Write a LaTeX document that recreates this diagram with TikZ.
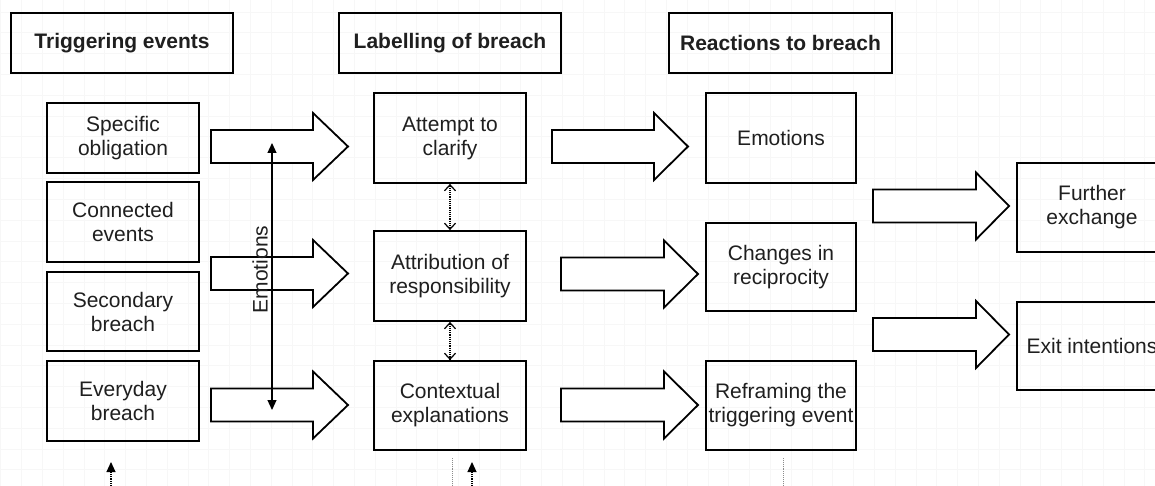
\documentclass[tikz,border=0pt]{standalone}
\usepackage{fontspec}
\setmainfont{Liberation Sans}
\usetikzlibrary{arrows.meta}
\newcommand\myBArrow[4]{%
  \draw[blockarrow] (#1,#4-16.5) -- (#2,#4-16.5) -- (#2,#4-33.5) -- (#3,#4)
    -- (#2,#4+33.5) -- (#2,#4+16.5) -- (#1,#4+16.5) -- cycle;}
\begin{document}
\begin{tikzpicture}[x=1pt,y=-1pt,
  box/.style={draw, line width=1.8pt, inner sep=0pt, align=center,
    font=\fontsize{21}{24}\selectfont, text=black!88},
  hdr/.style={box, font=\fontsize{21}{24}\selectfont\bfseries,
    minimum width=222pt, minimum height=60pt},
  item/.style={box, minimum width=152pt},
  blockarrow/.style={draw, line width=1.8pt, fill=white, line join=miter},
  dotarrow/.style={densely dotted, line width=1.2pt,
    {Straight Barb[length=6pt,width=11pt,line width=1.2pt]}-{Straight Barb[length=6pt,width=11pt,line width=1.2pt]}},
  emoarrow/.style={line width=1.2pt,
    {Triangle[length=10pt,width=9pt]}-{Triangle[length=10pt,width=9pt]}},
  stubarrow/.style={densely dotted, line width=1.1pt, -{Triangle[length=10pt,width=9pt]}},
  stubline/.style={densely dotted, line width=0.9pt, draw=black!45}
]
\useasboundingbox (0,0) rectangle (1155,486);
\clip (0,0) rectangle (1155,486);
\fill[white] (0,0) rectangle (1155,486);
% faint background grid
\foreach \i in {0,...,56} {
  \draw[black!3, line width=0.6pt] (0.6+\i*20.8,0) -- (0.6+\i*20.8,486);
}
\foreach \j in {-1,...,23} {
  \draw[black!3, line width=0.6pt] (0,12+\j*20.8) -- (1155,12+\j*20.8);
}
% headers
\node[hdr] (h1) at (122,43) {Triggering events};
\node[hdr] (h2) at (450,43) {Labelling of breach};
\node[hdr, minimum width=223pt] (h3) at (780.5,43) {Reactions to breach};
% triggering events
\node[item, minimum height=70pt] (a1) at (123,138) {Specific\\obligation};
\node[item, minimum height=80pt] (a2) at (123,222) {Connected\\events};
\node[item, minimum height=79pt] (a3) at (123,311.5) {Secondary\\breach};
\node[item, minimum height=80pt] (a4) at (123,401) {Everyday\\breach};
% labelling
\node[item, minimum height=90pt] (b1) at (450,138) {Attempt to\\clarify};
\node[item, minimum height=90pt] (b2) at (450,276) {Attribution of\\responsibility};
\node[item, minimum height=89pt] (b3) at (450,405.5) {Contextual\\explanations};
% reactions
\node[item, minimum width=150pt, minimum height=90pt] (c1) at (781,138) {Emotions};
\node[item, minimum width=150pt, minimum height=88pt] (c2) at (781,267) {Changes in\\reciprocity};
\node[item, minimum width=150pt, minimum height=89pt] (c3) at (781,405.5) {Reframing the\\triggering event};
% outcomes
\node[item, minimum width=150pt, minimum height=89pt] (d1) at (1092,207.5) {Further\\exchange};
\node[item, minimum width=150pt, minimum height=88pt] (d2) at (1092,346) {Exit intentions};
% block arrows
\myBArrow{211}{313}{348}{146.5}
\myBArrow{211}{313}{348}{273.5}
\myBArrow{211}{313}{348}{405}
\myBArrow{552}{654}{688}{146.5}
\myBArrow{561}{664}{698}{274}
\myBArrow{561}{664}{698}{405}
\myBArrow{873}{976}{1009}{206}
\myBArrow{873}{976}{1009}{334.5}
% dotted links in labelling column
\draw[dotarrow] (b1.south) -- (b2.north);
\draw[dotarrow] (b2.south) -- (b3.north);
% emotions double arrow
\coordinate (emoTop) at (272,143);
\coordinate (emoBot) at (272,410);
\draw[emoarrow] (emoTop) -- (emoBot);
\node[rotate=90, font=\fontsize{21}{24}\selectfont, text=black!88, inner sep=0pt, anchor=south]
  (emo) at (268,269.5) {Emotions};
% stubs at bottom edge
\coordinate (s1a) at (111,490); \coordinate (s1b) at (111,462);
\coordinate (s2a) at (472,490); \coordinate (s2b) at (472,462);
\coordinate (s3a) at (452,458); \coordinate (s3b) at (452,490);
\coordinate (s4a) at (783,458); \coordinate (s4b) at (783,490);
\draw[stubarrow] (s1a) -- (s1b);
\draw[stubarrow] (s2a) -- (s2b);
\draw[stubline] (s3a) -- (s3b);
\draw[stubline] (s4a) -- (s4b);
\end{tikzpicture}
\end{document}
